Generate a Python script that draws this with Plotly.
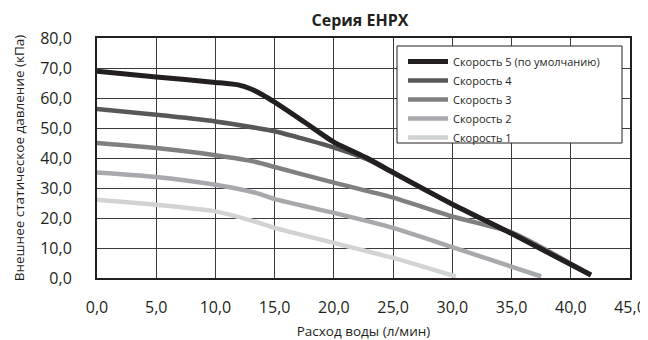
import plotly.graph_objects as go

# Data (flow l/min, pressure kPa)
names = ["Скорость 1", "Скорость 2", "Скорость 3", "Скорость 4", "Скорость 5 (по умолчанию)"]
s1_x = [0, 5, 10, 13.5, 15, 20, 25, 30.3]
s1_y = [26.1, 24.4, 22.2, 18.6, 16.7, 11.7, 6.7, 0.5]
s2_x = [0, 5, 10, 13.5, 15, 20, 25, 30, 37.5]
s2_y = [35.2, 33.7, 31.1, 28.3, 26.3, 21.7, 16.7, 10.3, 0.5]
s3_x = [0, 5, 10, 13.5, 15, 20, 25, 30, 35, 41.7]
s3_y = [45.0, 43.3, 40.9, 38.6, 37.0, 31.8, 26.8, 20.5, 15.2, 1.0]
s4_x = [0, 5, 10, 13.5, 15, 20, 22.8, 25, 30, 35, 41.7]
s4_y = [56.3, 54.4, 52.2, 50.0, 48.9, 43.5, 39.6, 35.0, 24.6, 14.9, 1.0]
s5_x = [0, 5, 10, 12, 13, 14, 15, 17.5, 20, 22.8, 25, 30, 35, 41.7]
s5_y = [68.9, 67.0, 65.2, 64.3, 63.0, 61.0, 58.6, 52.0, 45.3, 40.0, 35.2, 24.6, 14.8, 1.0]

xs = [s1_x, s2_x, s3_x, s4_x, s5_x]
ys = [s1_y, s2_y, s3_y, s4_y, s5_y]
colors = ["#d1d3d4", "#a7a9ac", "#808082", "#58585a", "#231f20"]
widths = [4.5, 4.5, 4.5, 4.5, 5]

x_ticks = [0, 5, 10, 15, 20, 25, 30, 35, 40, 45]
y_ticks = [0, 10, 20, 30, 40, 50, 60, 70, 80]

# page has an 8px body margin; figure coordinates = viewport - 8
W, H = 640, 332
L, R, T, B = 89, 18, 30, 62
PW, PH = W - L - R, H - T - B

def px(vx):  # viewport x -> paper
    return (vx - 8 - L) / PW

def py(vy):  # viewport y -> paper
    return (H - B - (vy - 8)) / PH

fig = go.Figure()
for n, x, y, c, w in zip(names, xs, ys, colors, widths):
    fig.add_trace(go.Scatter(x=x, y=y, mode="lines", name=n,
                             line=dict(color=c, width=w, shape="spline", smoothing=0.6)))

font_family = "Open Sans, Liberation Sans, sans-serif"
# legend frame (white box with border covering grid)
fig.add_shape(type="rect", xref="paper", yref="paper", layer="above",
              x0=px(397), x1=px(622), y0=py(143), y1=py(46),
              fillcolor="white", line=dict(color="#231f20", width=1))

fig.update_layout(
    width=W, height=H,
    margin=dict(l=L, r=R, t=T, b=B),
    paper_bgcolor="white", plot_bgcolor="white",
    separators=", ",
    font=dict(family=font_family, color="#231f20"),
    title=dict(text="<b>Серия EHPX</b>", x=((311 + 409) / 2 - 8) / W, xanchor="center",
               y=1 - (20 - 8) / H, yanchor="middle", font=dict(size=16)),
    showlegend=True,
    legend=dict(traceorder="reversed", x=px(403), y=py(47),
                xanchor="left", yanchor="top",
                bgcolor="rgba(0,0,0,0)", borderwidth=0,
                font=dict(size=11), itemwidth=40, tracegroupgap=0),
    xaxis=dict(range=[0, 45], tickvals=x_ticks, tickformat=".1f", automargin=False,
               showgrid=True, gridcolor="#3a3a3a", gridwidth=1,
               showline=True, linecolor="#231f20", linewidth=2, mirror=True,
               zeroline=False, ticks="", ticklabelstandoff=14,
               tickfont=dict(size=16),
               title=dict(text="Расход воды (л/мин)", font=dict(size=13.5), standoff=16)),
    yaxis=dict(range=[0, 80], tickvals=y_ticks, tickformat=".1f", automargin=False,
               showgrid=True, gridcolor="#3a3a3a", gridwidth=1,
               showline=True, linecolor="#231f20", linewidth=2, mirror=True,
               zeroline=False, ticks="", ticklabelstandoff=20,
               tickfont=dict(size=16),
               title=dict(text="Внешнее статическое давление (кПа)", font=dict(size=13.5), standoff=12)),
)

fig.write_html("out.html")
